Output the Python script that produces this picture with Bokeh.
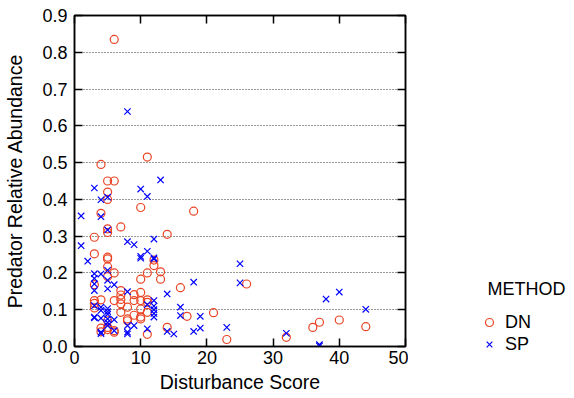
from bokeh.plotting import figure
from bokeh.models import Range1d, LinearAxis, FixedTicker, PrintfTickFormatter, Label
from bokeh.layouts import row
from bokeh.embed import file_html
from bokeh.resources import INLINE

# DN method (red circles)
dn_x = [3, 3, 3, 3, 3, 3,
        4, 4, 4, 4, 4,
        5, 5, 5, 5, 5, 5, 5, 5, 5, 5, 5, 5,
        6, 6, 6, 6, 6, 6,
        7, 7, 7, 7, 7, 7,
        8, 8, 8,
        9, 9, 9,
        10, 10, 10, 10, 10, 10, 10,
        11, 11, 11, 11, 11, 11,
        12, 12, 13, 13, 14, 14,
        16, 17, 18, 21, 23, 26, 32, 36, 37, 40, 44]
dn_y = [0.297, 0.252, 0.168, 0.125, 0.117, 0.105,
        0.495, 0.362, 0.127, 0.050, 0.040,
        0.450, 0.420, 0.400, 0.320, 0.310, 0.243, 0.238, 0.217, 0.190, 0.070, 0.052, 0.046,
        0.835, 0.450, 0.200, 0.125, 0.043, 0.039,
        0.325, 0.152, 0.140, 0.128, 0.116, 0.093,
        0.107, 0.075, 0.070,
        0.141, 0.125, 0.085,
        0.378, 0.183, 0.147, 0.125, 0.102, 0.080, 0.075,
        0.515, 0.200, 0.127, 0.120, 0.093, 0.033,
        0.235, 0.220, 0.203, 0.183, 0.305, 0.052,
        0.160, 0.082, 0.368, 0.092, 0.019, 0.170, 0.025, 0.052, 0.066, 0.072, 0.054]

# SP method (blue crosses)
sp_x = [1, 1, 2,
        3, 3, 3, 3, 3, 3, 3, 3,
        4, 4, 4, 4, 4, 4, 4, 4,
        5, 5, 5, 5, 5, 5, 5, 5, 5, 5, 5,
        6, 6, 6,
        8, 8, 8, 8, 8, 8,
        9, 9,
        10, 10, 10,
        11, 11, 11, 11,
        12, 12, 12, 12, 12, 12, 12, 12,
        13, 14, 14, 15, 16, 16, 18, 18, 19, 19, 23, 25, 25, 32, 37, 37, 38, 40, 44]
sp_y = [0.355, 0.274, 0.232,
        0.431, 0.198, 0.185, 0.170, 0.152, 0.111, 0.080, 0.078,
        0.399, 0.353, 0.197, 0.107, 0.098, 0.077, 0.039, 0.035,
        0.406, 0.317, 0.207, 0.180, 0.157, 0.103, 0.095, 0.088, 0.075, 0.065, 0.057,
        0.168, 0.073, 0.043,
        0.639, 0.285, 0.149, 0.057, 0.039, 0.034,
        0.277, 0.057,
        0.428, 0.245, 0.240,
        0.408, 0.259, 0.114, 0.048,
        0.292, 0.241, 0.238, 0.125, 0.110, 0.100, 0.090, 0.080,
        0.453, 0.143, 0.041, 0.034, 0.107, 0.084, 0.175, 0.041, 0.082, 0.050,
        0.052, 0.225, 0.173, 0.036, 0.005, 0.001, 0.129, 0.148, 0.101]

x_ticks = [0, 10, 20, 30, 40, 50]
y_ticks = [0.0, 0.1, 0.2, 0.3, 0.4, 0.5, 0.6, 0.7, 0.8, 0.9]
grid_ticks = [0.1, 0.2, 0.3, 0.4, 0.5, 0.6, 0.7, 0.8]
legend_title = "METHOD"
series_names = ["DN", "SP"]

FONT = "Liberation Sans"
RED = "#EA4424"
BLUE = "#0000FF"

p = figure(width=408, height=398, output_backend="svg", toolbar_location=None,
           x_range=Range1d(0, 50), y_range=Range1d(0, 0.9),
           min_border_left=74, min_border_right=3, min_border_top=15, min_border_bottom=52,
           background_fill_color="white", border_fill_color="white")
p.frame_align = False
p.outline_line_color = "black"
p.outline_line_width = 1.5

p.scatter(dn_x, dn_y, marker="circle", size=8, fill_color=None, line_color=RED, line_width=1.2)
p.scatter(sp_x, sp_y, marker="x", size=9, line_color=BLUE, line_width=1.2)

for ax in (p.xaxis[0], p.yaxis[0]):
    ax.major_label_text_font = FONT
    ax.major_label_text_font_size = "18px"
    ax.major_label_text_color = "black"
    ax.axis_label_text_font = FONT
    ax.axis_label_text_font_size = "19.5px"
    ax.axis_label_text_font_style = "normal"
    ax.axis_label_text_color = "black"
    ax.major_tick_in = 8
    ax.major_tick_out = 0
    ax.minor_tick_in = 0
    ax.minor_tick_out = 0
    ax.axis_line_width = 1.5
    ax.axis_line_color = "black"
    ax.major_tick_line_color = "black"
    ax.major_tick_line_width = 1.5

p.xaxis[0].ticker = FixedTicker(ticks=x_ticks)
p.yaxis[0].ticker = FixedTicker(ticks=y_ticks)
p.yaxis[0].formatter = PrintfTickFormatter(format="%.1f")
p.xaxis[0].axis_label = "Disturbance Score"
p.yaxis[0].axis_label = "Predator Relative Abundance"
p.xaxis[0].major_label_standoff = 4
p.xaxis[0].axis_label_standoff = 4
p.yaxis[0].major_label_standoff = 7
p.yaxis[0].axis_label_standoff = 13

top = LinearAxis(ticker=FixedTicker(ticks=x_ticks), major_label_text_font_size="1px",
                 major_label_text_color=None,
                 major_tick_in=8, major_tick_out=0, minor_tick_in=0, minor_tick_out=0,
                 axis_line_width=1.5, major_tick_line_width=1.5, major_label_standoff=0)
right = LinearAxis(ticker=FixedTicker(ticks=y_ticks), major_label_text_font_size="1px",
                   major_label_text_color=None,
                   major_tick_in=8, major_tick_out=0, minor_tick_in=0, minor_tick_out=0,
                   axis_line_width=1.5, major_tick_line_width=1.5, major_label_standoff=0)
p.add_layout(top, "above")
p.add_layout(right, "right")

p.xgrid.visible = False
p.ygrid[0].ticker = FixedTicker(ticks=grid_ticks)
p.ygrid[0].grid_line_color = "#333333"
p.ygrid[0].grid_line_dash = "1 2"
p.ygrid[0].grid_line_width = 1

# Legend panel (its ranges keep the series' points out of view; only the key is shown)
q = figure(width=166, height=398, output_backend="svg", toolbar_location=None,
           x_range=Range1d(-20, -10), y_range=Range1d(-20, -10),
           min_border_left=0, min_border_right=0, min_border_top=0, min_border_bottom=0)
q.frame_align = False
q.axis.visible = False
q.grid.visible = False
q.outline_line_color = None
q.scatter(dn_x, dn_y, marker="circle", size=8, fill_color=None, line_color=RED, line_width=1.2,
          legend_label=series_names[0])
q.scatter(sp_x, sp_y, marker="x", size=9, line_color=BLUE, line_width=1.2,
          legend_label=series_names[1])
lg = q.legend[0]
lg.label_text_font = FONT
lg.label_text_font_size = "18px"
lg.label_text_color = "black"
lg.label_height = 22
lg.glyph_height = 22
lg.glyph_width = 20
lg.label_standoff = 6
lg.spacing = 0
lg.padding = 0
lg.margin = 0
lg.border_line_color = None
lg.background_fill_alpha = 0
lg.location = (71, 43)

q.add_layout(Label(x=79, y=110, x_units="screen", y_units="screen", text=legend_title,
                   text_font=FONT, text_font_size="18px", text_color="black",
                   text_baseline="alphabetic"))

layout = row(p, q, spacing=0)
open("out.html", "w").write(file_html(layout, INLINE))
